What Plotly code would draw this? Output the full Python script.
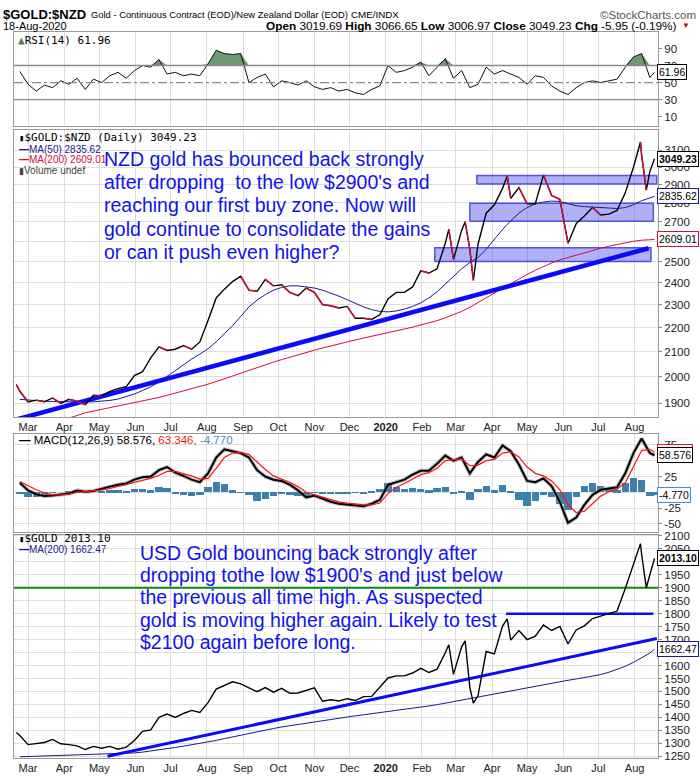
import math
import pandas as pd
import plotly.graph_objects as go

W, H = 700, 780
SANS = "Liberation Sans, Arial, sans-serif"
MONO = "DejaVu Sans Mono, monospace"
GRID = "#dedede"
FRAME = "#9a9a9a"

# ------------------------------------------------------------------ data
price_dates = [
    "2019-02-19", "2019-02-22", "2019-03-01", "2019-03-08", "2019-03-15", "2019-03-22", "2019-03-29",
    "2019-04-05", "2019-04-12", "2019-04-19", "2019-04-26", "2019-05-03", "2019-05-10", "2019-05-17",
    "2019-05-24", "2019-05-31", "2019-06-07", "2019-06-14", "2019-06-21", "2019-06-28", "2019-07-05",
    "2019-07-12", "2019-07-19", "2019-07-26", "2019-08-02", "2019-08-09", "2019-08-16", "2019-08-23",
    "2019-08-30", "2019-09-06", "2019-09-13", "2019-09-20", "2019-09-27", "2019-10-04", "2019-10-11",
    "2019-10-18", "2019-10-25", "2019-11-01", "2019-11-08", "2019-11-15", "2019-11-22", "2019-11-29",
    "2019-12-06", "2019-12-13", "2019-12-20", "2019-12-27", "2020-01-03", "2020-01-10", "2020-01-17",
    "2020-01-24", "2020-01-31", "2020-02-07", "2020-02-14", "2020-02-21", "2020-02-24", "2020-02-28",
    "2020-03-06", "2020-03-09", "2020-03-13", "2020-03-16", "2020-03-20", "2020-03-27", "2020-04-03",
    "2020-04-10", "2020-04-14", "2020-04-17", "2020-04-24", "2020-05-01", "2020-05-08", "2020-05-15",
    "2020-05-22", "2020-05-29", "2020-06-05", "2020-06-12", "2020-06-19", "2020-06-26", "2020-07-03",
    "2020-07-10", "2020-07-17", "2020-07-24", "2020-07-31", "2020-08-06", "2020-08-07", "2020-08-11",
    "2020-08-14", "2020-08-18"]

nzd_close = [
    1970, 1945,
    1905, 1912, 1906, 1920, 1900,
    1915, 1908, 1895, 1930,
    1928, 1945, 1955, 1962, 2005,
    2020, 2075, 2120, 2105,
    2110, 2125, 2110, 2140,
    2230, 2330, 2370, 2405, 2430,
    2365, 2360, 2415, 2385,
    2390, 2355, 2340, 2375,
    2355, 2300, 2295, 2285, 2292,
    2240, 2240, 2235, 2255,
    2325, 2355, 2355, 2380, 2455,
    2445, 2465, 2590, 2660, 2510,
    2655, 2700, 2560, 2410, 2585, 2745,
    2790, 2880, 2950, 2825, 2885,
    2795, 2795, 2955, 2840, 2820,
    2590, 2690, 2730, 2775,
    2735, 2740, 2760, 2855, 3000,
    3150, 3070, 2870, 2975, 3049.23]

usd_close = [
    1342, 1330,
    1295, 1300, 1303, 1315, 1298,
    1295, 1290, 1276, 1288,
    1281, 1288, 1277, 1285, 1311,
    1346, 1352, 1400, 1413,
    1400, 1415, 1427, 1419,
    1457, 1509, 1524, 1537, 1529,
    1515, 1499, 1515, 1497,
    1512, 1493, 1494, 1505,
    1514, 1462, 1468, 1463, 1472,
    1465, 1480, 1481, 1515,
    1552, 1560, 1560, 1571, 1589,
    1573, 1586, 1649, 1680, 1566,
    1672, 1695, 1516, 1455, 1484, 1654,
    1645, 1752, 1780, 1698, 1735,
    1700, 1713, 1756, 1735, 1751,
    1683, 1737, 1753, 1781,
    1790, 1801, 1810, 1897, 1986,
    2070, 2028, 1900, 1949, 2013.10]

ind_dates = list(pd.date_range("2019-02-22", "2020-08-14", freq="W-FRI").strftime("%Y-%m-%d")) + ["2020-08-18"]

rsi14 = [63, 48, 40, 47, 44, 52, 48, 55, 42, 54,
         50, 58, 62, 55, 64, 70, 68, 77, 60, 62,
         58, 60, 58, 72, 88, 84, 83, 84, 50, 56,
         60, 45, 52, 50, 47, 52, 45, 42, 44, 40,
         42, 38, 36, 42, 46, 70, 62, 64, 68, 74,
         58, 68, 78, 55, 64, 44, 48, 68, 60, 64,
         60, 56, 48, 58, 56, 46, 40, 36, 44, 50,
         52, 50, 52, 54, 68, 80, 84, 56, 61.96]

macd_line = [15, 3, -3, -6, -5, -4, -2, 3, 1, 2,
             6, 9, 12, 14, 20, 24, 25, 35, 40, 31,
             26, 20, 16, 30, 55, 68, 65, 62, 55, 35,
             25, 20, 18, 12, 3, -8, -5, -10, -15, -18,
             -19, -20, -22, -18, -12, 12, 16, 20, 28, 34,
             34, 45, 58, 50, 55, 30, 48, 60, 55, 74,
             65, 44, 18, 16, 22, 10, -15, -48, -40, -20,
             -4, 4, 6, 8, 30, 62, 85, 62, 58.576]

macd_signal = [17, 10, 4, -1, -4, -4, -3, 0, 1, 2,
               4, 6, 9, 12, 15, 19, 22, 27, 33, 33,
               30, 26, 21, 22, 38, 55, 62, 63, 60, 48,
               36, 26, 21, 16, 9, 0, -4, -8, -12, -15,
               -17, -19, -20, -20, -17, -2, 8, 14, 21, 28,
               31, 38, 50, 52, 53, 42, 43, 50, 52, 62,
               64, 56, 40, 30, 26, 18, 4, -20, -32, -30,
               -18, -6, 1, 5, 15, 40, 66, 68, 63.346]

nzd_ma50 = [1915, 1912, 1910, 1908, 1907, 1906, 1905, 1905, 1905, 1906, 1908, 1911,
            1916, 1925, 1935, 1948, 1962, 1980, 2002, 2025, 2048, 2070, 2090,
            2112, 2140, 2172, 2208, 2248,
            2290, 2320, 2345, 2365,
            2378, 2385, 2385, 2380,
            2375, 2365, 2352, 2338, 2322,
            2305, 2290, 2278, 2270,
            2268, 2272, 2280, 2292, 2308,
            2330, 2358, 2392, 2430,
            2465, 2495, 2520, 2560,
            2610, 2660, 2705, 2745,
            2775, 2795, 2805, 2810, 2808,
            2795, 2785, 2780, 2778,
            2775, 2772, 2770, 2775, 2790,
            2812, 2826, 2835.62]

nzd_ma200 = [1815, 1820, 1826, 1831, 1836, 1841, 1847, 1856, 1866, 1872,
             1878, 1884, 1890, 1896, 1902,
             1908, 1915, 1922, 1930,
             1938, 1946, 1955, 1963,
             1972, 1982, 1993, 2004, 2015,
             2026, 2037, 2048, 2058,
             2068, 2078, 2088, 2097,
             2106, 2115, 2124, 2132, 2140,
             2148, 2156, 2163, 2170,
             2178, 2186, 2194, 2202, 2211,
             2220, 2230, 2242, 2255,
             2270, 2288, 2308, 2330,
             2352, 2374, 2396, 2418,
             2438, 2458, 2476, 2493, 2508,
             2520, 2532, 2544, 2555,
             2565, 2575, 2584, 2593, 2600,
             2605, 2608, 2609.01]

usd_ma200 = [1248, 1249, 1250, 1251, 1252, 1253,
             1254, 1255, 1256, 1257,
             1258, 1259, 1260, 1261, 1263,
             1266, 1270, 1274, 1279,
             1284, 1289, 1294, 1299,
             1305, 1311, 1318, 1325, 1332,
             1339, 1345, 1351, 1357,
             1363, 1368, 1373, 1378,
             1383, 1388, 1393, 1398, 1402,
             1406, 1410, 1414, 1418,
             1422, 1426, 1430, 1434, 1439,
             1444, 1449, 1455, 1461,
             1467, 1473, 1479, 1485,
             1491, 1497, 1503, 1509,
             1515, 1521, 1527, 1533, 1538,
             1543, 1548, 1553, 1558,
             1565, 1574, 1584, 1597, 1612,
             1630, 1648, 1662.47]

month_ticks = ["2019-03-01", "2019-04-01", "2019-05-01", "2019-06-01", "2019-07-01", "2019-08-01",
               "2019-09-01", "2019-10-01", "2019-11-01", "2019-12-01", "2020-01-01", "2020-02-01",
               "2020-03-01", "2020-04-01", "2020-05-01", "2020-06-01", "2020-07-01", "2020-08-01"]
month_labels = ["Mar", "Apr", "May", "Jun", "Jul", "Aug", "Sep", "Oct", "Nov", "Dec", "<b>2020</b>",
                "Feb", "Mar", "Apr", "May", "Jun", "Jul", "Aug"]

rsi_ticks = [10, 30, 50, 70, 90]
nzd_ticks = [1900, 2000, 2100, 2200, 2300, 2400, 2500, 2600, 2700, 2800, 2900, 3000, 3100]
nzd_hidden = [2600]                     # covered by the MA(200) value tag
macd_ticks = [-50, -25, 0, 25, 50, 75]
macd_hidden = [0, 50]                   # covered by value tags
usd_ticks = [1250, 1300, 1350, 1400, 1450, 1500, 1550, 1600, 1650, 1700, 1750, 1800,
             1850, 1900, 1950, 2000, 2050, 2100]
usd_hidden = [1650, 2000]               # covered by value tags

# drawn annotations (trend lines, zones, levels)
nzd_trend_dates = ["2019-02-05", "2020-08-13"]
nzd_trend_vals = [1826, 2565]
zone_starts = ["2020-03-19", "2020-03-13", "2020-02-12"]
zone_ends = ["2020-08-20", "2020-08-17", "2020-08-15"]
zone_lows = [2905, 2703, 2500]
zone_highs = [2952, 2798, 2567]
usd_trend_dates = ["2019-05-08", "2020-08-20"]
usd_trend_vals = [1250, 1704]
usd_support_dates = ["2019-02-17", "2020-08-21"]
usd_support_vals = [1900, 1900]
usd_resist_dates = ["2020-04-13", "2020-08-17"]
usd_resist_vals = [1800, 1800]

hdr_open, hdr_high, hdr_low, hdr_close = "3019.69", "3066.65", "3006.97", "3049.23"
hdr_chg = "-5.95 (-0.19%)"

nzd_note = ["NZD gold has bounced back strongly",
            "after dropping\u00a0 to the low $2900's and",
            "reaching our first buy zone. Now will",
            "gold continue to consolidate the gains",
            "or can it push even higher?"]
usd_note = ["USD Gold bouncing back strongly after",
            "dropping tothe low $1900's and just below",
            "the previous all time high. As suspected",
            "gold is moving higher again. Likely to test",
            "$2100 again before long."]

for s in (nzd_close, usd_close):
    assert len(s) == len(price_dates), len(s)
for s in (rsi14, macd_line, macd_signal, nzd_ma50, nzd_ma200, usd_ma200):
    assert len(s) == len(ind_dates), (len(s), len(ind_dates))

# ------------------------------------------------------------------ figure
fig = go.Figure()


def line(x, y, ax, color, width, **kw):
    fig.add_trace(go.Scatter(x=x, y=y, xaxis="x" + ax if ax != "1" else "x",
                             yaxis="y" + ax if ax != "1" else "y", mode="lines",
                             line=dict(color=color, width=width), hoverinfo="skip", **kw))


# RSI panel
line(ind_dates, [70] * len(ind_dates), "1", "rgba(0,0,0,0)", 0)
line(ind_dates, [max(v, 70) for v in rsi14], "1", "rgba(0,0,0,0)", 0,
     fill="tonexty", fillcolor="#6f9771")
line(ind_dates, rsi14, "1", "#111", 1)

# main NZD panel
for s, e, lo, hi in zip(zone_starts, zone_ends, zone_lows, zone_highs):
    line([s, e, e, s, s], [lo, lo, hi, hi, lo], "2", "rgba(60,60,225,0.85)", 1.5,
         fill="toself", fillcolor="rgba(80,80,235,0.45)")
line(ind_dates, nzd_ma200, "2", "#d0103a", 1)
line(ind_dates, nzd_ma50, "2", "#1a1a8c", 1)
line(nzd_trend_dates, nzd_trend_vals, "2", "#0a0aff", 4.5)
line(price_dates, nzd_close, "2", "#000", 1.4)
red_x, red_y = [], []
for i in range(1, len(nzd_close)):
    if nzd_close[i] < nzd_close[i - 1]:
        red_x += [price_dates[i - 1], price_dates[i], None]
        red_y += [nzd_close[i - 1], nzd_close[i], None]
line(red_x, red_y, "2", "#d0103a", 1.4)

# MACD panel
hist = [m - s for m, s in zip(macd_line, macd_signal)]
fig.add_trace(go.Bar(x=ind_dates, y=hist, xaxis="x3", yaxis="y3", marker=dict(color="#3d7fae", line=dict(width=0)),
                     width=6.3 * 86400000, hoverinfo="skip"))
line(ind_dates, macd_line, "3", "rgba(140,140,140,0.55)", 4)
line(ind_dates, macd_line, "3", "#000", 2)
line(ind_dates, macd_signal, "3", "#ff1010", 1.2)

# USD panel
line(usd_support_dates, usd_support_vals, "4", "#0a8a0a", 2)
line(ind_dates, usd_ma200, "4", "#1a1a8c", 1)
line(usd_trend_dates, usd_trend_vals, "4", "#0a0aff", 3)
line(usd_resist_dates, usd_resist_vals, "4", "#0a0aff", 2.5)
line(price_dates, usd_close, "4", "#000", 1.4)

# ------------------------------------------------------------------ axes
XR = ["2019-02-17", "2020-08-21"]
XDOM = [14 / W, 658 / W]


def ydom(top, bot):
    return [1 - bot / H, 1 - top / H]


def xax(anchor, show):
    return dict(type="date", range=XR, domain=XDOM, anchor=anchor, tickmode="array",
                tickvals=month_ticks, ticktext=month_labels, showticklabels=show,
                showgrid=True, gridcolor=GRID, gridwidth=1, showline=True, linecolor=FRAME,
                mirror=True, ticks="", zeroline=False,
                tickfont=dict(family=SANS, size=11, color="#222"))


def yax(anchor, dom, rng, ticks, hidden=(), grid=True, typ="linear"):
    return dict(type=typ, domain=dom, anchor=anchor, side="right", range=rng, tickmode="array",
                tickvals=ticks, ticktext=["" if t in hidden else str(t) for t in ticks],
                showgrid=grid, gridcolor=GRID,
                showline=True, linecolor=FRAME, mirror=True, zeroline=False, ticks="outside",
                ticklen=3, tickcolor="#888", tickfont=dict(family=SANS, size=11.5, color="#222"))


fig.update_layout(
    width=W, height=H, margin=dict(l=0, r=0, t=0, b=0),
    paper_bgcolor="white", plot_bgcolor="white", showlegend=False, bargap=0,
    xaxis=xax("y", False), xaxis2=xax("y2", True), xaxis3=xax("y3", False), xaxis4=xax("y4", True),
    yaxis=yax("x", ydom(27, 122), [-0.5, 109.7], rsi_ticks, grid=False),
    yaxis2=yax("x2", ydom(126, 417), [math.log10(1850), math.log10(3227)], nzd_ticks, nzd_hidden, typ="log"),
    yaxis3=yax("x3", ydom(434, 533), [-62.5, 92.2], macd_ticks, macd_hidden),
    yaxis4=yax("x4", ydom(536, 762), [1242.5, 2104], usd_ticks, usd_hidden),
)

for lvl, dash in ((70, "solid"), (50, "dashdot"), (30, "solid")):
    fig.add_shape(type="line", xref="x domain", x0=0, x1=1, yref="y", y0=lvl, y1=lvl,
                  line=dict(color="#8a8a8a", width=1.3, dash=dash))


# ------------------------------------------------------------------ text
def txt(x, y, text, size=11, color="#000", family=SANS, xanchor="left"):
    fig.add_annotation(x=x / W, y=1 - y / H, xref="paper", yref="paper", text=text, showarrow=False,
                       xanchor=xanchor, yanchor="middle", font=dict(size=size, color=color, family=family))


# header
txt(1, 10, "<b>$GOLD:$NZD</b>", 13, "#000", SANS)
txt(89, 10, "Gold - Continuous Contract (EOD)/New Zealand Dollar (EOD)", 9.4, "#000", SANS)
txt(349, 10, "CME/INDX", 9.8, "#000", SANS)
txt(698, 10, "©StockCharts.com", 11.5, "#555", SANS, "right")
txt(1, 21, "18-Aug-2020", 11, "#000", SANS)
txt(679, 21, f"<b>Open</b> {hdr_open} <b>High</b> {hdr_high} <b>Low</b> {hdr_low} "
             f"<b>Close</b> {hdr_close} <b>Chg</b> {hdr_chg}", 11.8, "#000", SANS, "right")
txt(680, 21, "▼", 8, "#cc0000", SANS)

# panel legends
txt(16, 36, "<span style='color:#4f7f4f'>▲</span>RSI(14) " + f"{rsi14[-1]:.2f}", 11, "#000", MONO)
txt(17, 134, "<span style='font-size:9px'>▮</span>$GOLD:$NZD (Daily) " + f"{nzd_close[-1]:.2f}", 11, "#000", MONO)
txt(17, 146, f"<b>—</b>MA(50) {nzd_ma50[-1]:.2f}", 10, "#1a1a8c", SANS)
txt(17, 156, f"<b>—</b>MA(200) {nzd_ma200[-1]:.2f}", 10, "#d0103a", SANS)
txt(17, 167, "<span style='font-size:9px'>▮</span>Volume undef", 10, "#444", SANS)
txt(17, 440, f"<b>—</b> MACD(12,26,9) {macd_line[-1]:.3f}, <span style='color:#ff1010'>{macd_signal[-1]:.3f}, </span>"
             f"<span style='color:#4a8cbf'>{hist[-1]:.3f}</span>", 11.5, "#000", SANS)
txt(17, 540, "<span style='font-size:9px'>▮</span>$GOLD " + f"{usd_close[-1]:.2f}", 11, "#000", MONO)
txt(17, 551, f"<b>—</b>MA(200) {usd_ma200[-1]:.2f}", 10, "#1a1a8c", SANS)

# notes
for k, s in enumerate(nzd_note):
    txt(102, 156 + 23.4 * k, s, 19.5, "#1212ee", SANS)
for k, s in enumerate(usd_note):
    txt(138, 554 + 22.6 * k, s, 19.5, "#1212ee", SANS)


# value tags on the right axis
def tag(yref, yval, label, border, bold=False, size=10.5):
    fig.add_annotation(x=657 / W, xref="paper", y=yval, yref=yref, xanchor="left", yanchor="middle",
                       text=f"<b>{label}</b>" if bold else label, showarrow=False,
                       font=dict(family=SANS, size=size, color="#000"), bgcolor="white",
                       bordercolor=border, borderwidth=1, borderpad=1)


tag("y", rsi14[-1], f"{rsi14[-1]:.2f}", "#000")
tag("y2", math.log10(nzd_close[-1]), f"{nzd_close[-1]:.2f}", "#000", True)
tag("y2", math.log10(nzd_ma50[-1]), f"{nzd_ma50[-1]:.2f}", "#1a1a8c")
tag("y2", math.log10(nzd_ma200[-1]), f"{nzd_ma200[-1]:.2f}", "#d0103a")
tag("y3", macd_signal[-1], f"{macd_signal[-1]:.3f}", "#ff1010")
tag("y3", macd_line[-1], f"{macd_line[-1]:.3f}", "#000")
tag("y3", hist[-1], f"{hist[-1]:.3f}", "#4a8cbf")
tag("y4", usd_close[-1], f"{usd_close[-1]:.2f}", "#000", True)
tag("y4", usd_ma200[-1], f"{usd_ma200[-1]:.2f}", "#1a1a8c")

fig.write_html("out.html", config={"displayModeBar": False})
